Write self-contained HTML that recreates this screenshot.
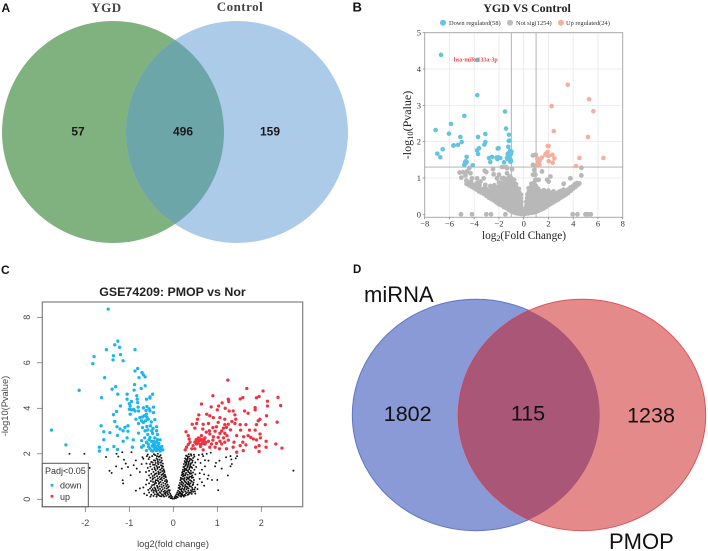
<!DOCTYPE html>
<html lang="en">
<head>
<meta charset="utf-8">
<title>Venn diagrams and volcano plots</title>
<style>
html,body{margin:0;padding:0;background:#fff;}
svg{display:block;}
text{font-family:"Liberation Sans",sans-serif;}
.serif{font-family:"Liberation Serif",serif;}
</style>
</head>
<body>
<svg id="figure" width="708" height="551" viewBox="0 0 708 551" xmlns="http://www.w3.org/2000/svg">
  <defs>
    <clipPath id="clip-a"><circle cx="113" cy="132" r="111"/></clipPath>
    <clipPath id="clip-d"><ellipse cx="476" cy="415" rx="123.7" ry="115.7"/></clipPath>
  </defs>
  <rect width="708" height="551" fill="#fff"/>

  <g>
    <text x="1.5" y="12" font-size="12" font-weight="bold" fill="#111">A</text>
    <circle cx="113" cy="132" r="111" fill="#80b27f"/>
    <circle cx="237" cy="132" r="111" fill="#abcbe9"/>
    <circle cx="237" cy="132" r="111" fill="#6ca6a8" clip-path="url(#clip-a)"/>
    <text class="serif" x="106.500" y="12" font-size="13" font-weight="bold" fill="#444" text-anchor="middle" letter-spacing=".5">YGD</text>
    <text class="serif" x="240" y="11" font-size="13" font-weight="bold" fill="#444" text-anchor="middle" letter-spacing=".5">Control</text>
    <text x="78" y="135.500" font-size="12" font-weight="bold" fill="#1a1a1a" text-anchor="middle">57</text>
    <text x="183" y="135.500" font-size="12" font-weight="bold" fill="#1a1a1a" text-anchor="middle">496</text>
    <text x="270" y="135.500" font-size="12" font-weight="bold" fill="#1a1a1a" text-anchor="middle">159</text>
  </g>

  <g>
    <text x="353" y="273" font-size="11.500" font-weight="bold" fill="#111">D</text>
    <ellipse cx="476" cy="415" rx="123.7" ry="115.7" fill="#8a9ad6" stroke="#5f76c6" stroke-width="1"/>
    <ellipse cx="582" cy="415" rx="123.7" ry="115.7" fill="#e58a8a" stroke="#d9545c" stroke-width="1"/>
    <ellipse cx="582" cy="415" rx="123.7" ry="115.7" fill="#aa5777" stroke="#c9485a" stroke-width="1" clip-path="url(#clip-d)"/>
    <text x="364" y="302" font-size="22" fill="#111">miRNA</text>
    <text x="609" y="549" font-size="22" fill="#111">PMOP</text>
    <text x="407.700" y="421" font-size="21.500" fill="#111" text-anchor="middle">1802</text>
    <text x="528" y="420.700" font-size="21.500" fill="#111" text-anchor="middle">115</text>
    <text x="651" y="422.700" font-size="21.500" fill="#111" text-anchor="middle">1238</text>
  </g>

  <g id="panel-b">
    <text x="352.500" y="11.500" font-size="13" font-weight="bold" fill="#111">B</text>
    <text class="serif" x="527" y="12" font-size="12" font-weight="bold" fill="#222" text-anchor="middle">YGD VS Control</text>
    <circle cx="443" cy="22.700" r="3" fill="#62c4e0"/>
    <text class="serif" x="449" y="25" font-size="6.400" fill="#333">Down regulated(58)</text>
    <circle cx="510" cy="22.700" r="3" fill="#bdbdbd"/>
    <text class="serif" x="516" y="25" font-size="6.400" fill="#333">Not sig(1254)</text>
    <circle cx="561" cy="22.700" r="3" fill="#f7ae9c"/>
    <text class="serif" x="566" y="25" font-size="6.400" fill="#333">Up regulated(24)</text>
    <g id="b-grid"></g>
    <g id="b-points"></g>
    <g id="b-axes"></g>
    <text class="serif" x="453.700" y="61.700" font-size="6" font-weight="bold" fill="#f0454a">hsa-miR-133a-3p</text>
    <text class="serif" x="524" y="239" font-size="11.300" fill="#222" text-anchor="middle">log<tspan font-size="8" dy="2">2</tspan><tspan dy="-2">(Fold Change)</tspan></text>
    <text class="serif" transform="translate(411,125) rotate(-90)" font-size="12" fill="#222" text-anchor="middle">-log<tspan font-size="8.500" dy="2">10</tspan><tspan dy="-2">(Pvalue)</tspan></text>
  </g>

  <g id="panel-c">
    <text x="1" y="274" font-size="12" font-weight="bold" fill="#111">C</text>
    <text x="172.500" y="296" font-size="12.400" font-weight="bold" fill="#222" text-anchor="middle">GSE74209: PMOP vs Nor</text>
    <g id="c-points"></g>
    <g id="c-axes"></g>
    <text x="173" y="547" font-size="9.300" fill="#444" text-anchor="middle">log2(fold change)</text>
    <text transform="translate(8,406) rotate(-90)" font-size="9.300" fill="#444" text-anchor="middle">-log10(Pvalue)</text>
    <g>
      <rect x="42.300" y="463.300" width="46" height="43.400" fill="#fff" stroke="#555" stroke-width="1"/>
      <text x="45" y="474" font-size="9" fill="#333">Padj&lt;0.05</text>
      <circle cx="52" cy="485.300" r="1.500" fill="#1ab5ec"/>
      <text x="60" y="488.500" font-size="9" fill="#333">down</text>
      <circle cx="52" cy="496.300" r="1.500" fill="#ee3340"/>
      <text x="60" y="499.800" font-size="9" fill="#333">up</text>
    </g>
  </g>
</svg>
<script>
// Panel B: tick labels
const bXTicks = [-8,-6,-4,-2,0,2,4,6,8];
const bYTicks = [0,1,2,3,4,5];
const bThresholdX = [-1,1];
const bThresholdY = [1.3];

// Panel B: down regulated points [log2FC, -log10P]
const bDown = [[-6.68,4.39],[-3.77,4.25],[-3.75,3.28],[-4.8,2.71],[-5.88,2.49],[-1.51,2.83],[-7.12,2.32],[-6.04,2.22],[-5.12,2.13],[-5.31,1.91],[-5.01,1.99],[-5.69,1.89],[-5.65,1.9],[-6.55,1.79],[-6.98,1.67],[-6.74,1.57],[-4.61,1.58],[-4.61,1.44],[-4.74,1.43],[-4.8,1.36],[-4.72,1.39],[-4.12,1.35],[-3.69,2.13],[-3.1,2.21],[-3.1,1.99],[-3.18,1.92],[-3.77,1.76],[-3.61,1.82],[-3.69,1.66],[-2.8,1.55],[-2.56,1.58],[-2.7,1.44],[-2.16,1.55],[-1.89,1.55],[-2.13,1.52],[-2.1,1.81],[-2.03,1.82],[-1.43,2.36],[-1.19,2.19],[-1.21,2.02],[-1.15,2.03],[-1.24,1.86],[-1.29,1.67],[-1.21,1.68],[-1.35,1.55],[-1.59,1.43],[-1,1.73],[-1.02,1.67],[-1.08,1.45],[-1.02,1.46],[-1.26,1.6],[-1.1,1.75],[-2.2,1.56],[-2.08,1.57],[-4.68,1.46],[-1.05,1.5],[-1.12,1.62],[-1.3,1.52]];

// Panel B: up regulated points
const bUp = [[3.56,3.57],[5.28,3.17],[5.63,2.84],[2.26,2.98],[2.43,2.29],[5.2,2.13],[2.02,1.88],[1.94,1.88],[1.94,1.72],[1.8,1.67],[2,1.61],[2.32,1.64],[2.48,1.54],[2.35,1.42],[2.02,1.46],[1.46,1.56],[1.1,1.54],[1.29,1.48],[1.19,1.43],[1.1,1.36],[1.27,1.36],[4.5,1.55],[4.23,1.33],[6.44,1.55],[1.75,1.64]];

// Panel B: not significant points
const bNotSig = [[-5.18,1.15],[-4.9,1.16],[-4.58,1.18],[-4.4,1.27],[-5.04,1.01],[-4.7,1.07],[-4.3,1.13],[-4.63,.93],[-4.18,.99],[-3.77,.99],[-4.26,.9],[-3.15,1.2],[-3.02,1.16],[-2.48,1.24],[-1.75,1.3],[-1.43,1.3],[-1.35,1.13],[-2.43,1.1],[-3.23,.99],[-3.5,.9],[-3.1,.81],[-2.7,.78],[-3.77,.86],[-2.16,.99],[-2,1.09],[-1.75,.99],[-1.35,1.27],[-.94,1.24],[-1.08,1.04],[-5.07,0],[-4.18,0],[-3.02,0],[-2.64,0],[-1.48,0],[3.96,0],[4.34,0],[4.99,0],[5.18,0],[5.42,0],[.75,1.62],[.97,1.64],[.75,1.36],[.97,1.34],[.86,1.22],[.75,1.09],[.94,1.09],[1.48,1.18],[.94,.95],[1.21,.95],[2.16,1.04],[1.89,.95],[2.02,.9],[3.23,.84],[3.77,.99],[4.66,1.28],[4.66,1.07],[4.31,.86],[.67,.81],[.8,.86],
[-4.62,.84],[-4.41,.8],[-4.38,.87],[-4.2,.76],[-4.18,.83],[-4.01,.72],[-3.98,.8],[-3.8,.68],[-3.78,.76],[-3.61,.63],[-3.6,.72],[-3.57,.8],[-3.41,.6],[-3.39,.68],[-3.2,.56],[-3.22,.64],[-3.18,.72],[-3.01,.51],[-2.98,.6],[-3.02,.7],[-2.81,.46],[-2.79,.55],[-2.82,.65],[-2.61,.42],[-2.58,.52],[-2.62,.62],[-2.57,.72],[-2.4,.38],[-2.42,.48],[-2.38,.58],[-2.41,.68],[-2.37,.8],[-2.21,.33],[-2.19,.43],[-2.22,.53],[-2.18,.63],[-2.2,.73],[-2.01,.28],[-1.98,.38],[-2.02,.48],[-1.99,.58],[-2.03,.68],[-1.97,.78],[-2,.88],[-1.8,.25],[-1.82,.35],[-1.78,.45],[-1.81,.55],[-1.79,.65],[-1.83,.75],[-1.77,.85],[-1.6,.2],[-1.62,.3],[-1.58,.4],[-1.61,.5],[-1.59,.6],[-1.63,.7],[-1.57,.8],[-1.6,.9],[-1.62,1],[-1.4,.17],[-1.42,.27],[-1.38,.37],[-1.41,.47],[-1.39,.57],[-1.43,.67],[-1.37,.77],[-1.4,.87],[-1.42,.97],[-1.2,.12],[-1.22,.22],[-1.18,.32],[-1.21,.42],[-1.19,.52],[-1.23,.62],[-1.17,.72],[-1.2,.82],[-1.22,.92],[-1.18,1.02],[-1,.08],[-1.02,.18],[-.98,.28],[-1.01,.38],[-.99,.48],[-1.03,.58],[-.97,.68],[-1,.78],[-1.02,.88],[-.98,.98],[-.8,.05],[-.82,.15],[-.78,.25],[-.81,.35],[-.79,.45],[-.83,.55],[-.77,.65],[-.8,.75],[-.82,.85],[-.78,.95],[-.6,.03],[-.62,.13],[-.58,.23],[-.61,.33],[-.59,.43],[-.63,.53],[-.57,.63],[-.6,.73],[-.62,.83],[-.4,.02],[-.42,.1],[-.38,.2],[-.41,.3],[-.39,.4],[-.43,.5],[-.37,.6],[-.4,.7],[-.2,.01],[-.22,.08],[-.18,.16],[-.23,.25],[-.2,.34],[-.24,.44],[-.22,.54],[-.1,.05],[-.1,.14],[0,0],[.02,.05],[.1,.05],[.11,.12],
[.2,.02],[.22,.1],[.18,.18],[.24,.26],[.22,.35],[.28,.45],[.3,.55],[.4,.03],[.42,.12],[.38,.22],[.41,.32],[.43,.42],[.39,.52],[.42,.62],[.4,.72],[.6,.04],[.62,.14],[.58,.24],[.61,.34],[.59,.44],[.63,.54],[.57,.64],[.6,.74],[.62,.84],[.8,.05],[.82,.15],[.78,.25],[.81,.35],[.79,.45],[.83,.55],[.77,.65],[.8,.75],[1,.07],[1.02,.17],[.98,.27],[1.01,.37],[.99,.47],[1.03,.57],[.97,.67],[1,.77],[1.2,.1],[1.22,.2],[1.18,.3],[1.21,.4],[1.19,.5],[1.23,.6],[1.17,.7],[1.4,.13],[1.42,.23],[1.38,.33],[1.41,.43],[1.39,.53],[1.43,.63],[1.6,.16],[1.62,.26],[1.58,.36],[1.61,.46],[1.59,.56],[1.63,.66],[1.8,.2],[1.82,.3],[1.78,.4],[1.81,.5],[1.79,.6],[2,.25],[2.02,.35],[1.98,.45],[2.01,.55],[1.99,.65],[2.2,.29],[2.22,.39],[2.18,.49],[2.21,.59],[2.4,.33],[2.42,.43],[2.38,.53],[2.41,.63],[2.6,.37],[2.58,.47],[2.62,.57],[2.8,.41],[2.78,.51],[2.82,.61],[3,.46],[3.02,.55],[2.98,.64],[3.2,.5],[3.18,.59],[3.22,.68],[3.4,.54],[3.42,.63],[3.6,.59],[3.58,.68],[3.8,.65],[3.78,.74],[4,.71],[4.02,.79],[4.2,.76],[4.18,.84],[4.4,.82],[4.5,.85]];

// Panel C: tick labels
const cXTicks = [-2,-1,0,1,2];
const cYTicks = [0,2,4,6,8];

// Panel C: down points [log2FC, -log10P]
const cDown = [[-1.48,8.36],[-1.26,6.95],[-1.33,6.79],[-1.22,6.68],[-1.52,6.58],[-.87,6.58],[-1.8,6.27],[-1.83,5.96],[-1.36,6.31],[-1.37,6.13],[-1.2,6.36],[-1.14,6.09],[-1.56,5.35],[-.81,5.75],[-.87,5.64],[-.71,5.57],[-.68,5.47],[-.64,5.38],[-.78,5.35],[-.88,5.04],[-.64,4.99],[-.73,4.87],[-.89,4.8],[-1.31,4.95],[-1.39,4.84],[-2.14,4.79],[-1.26,4.62],[-1.63,4.47],[-1.05,4.62],[-1.05,4.4],[-.83,4.55],[-.82,4.4],[-.95,4.3],[-.81,4.25],[-1,4.2],[-.47,4.62],[-.53,4.5],[-.61,4.4],[-.53,4.45],[-1.2,4.1],[-.98,4.1],[-.95,3.93],[-2.77,3.04],[-2.44,2.39],[-1.64,3.23],[-1.58,2.97],[-1.58,2.62],[-1.68,2.29],[-1.68,2.12],[-1.5,2.19],[-1.44,2.93],[-1.36,3.72],[-1.29,3.86],[-1.33,3.42],[-1.28,3.19],[-1.27,2.81],[-1.21,3.09],[-1.14,3.01],[-1.1,3.16],[-1.03,3.23],[-1.03,2.99],[-1.14,2.55],[-1.05,2.7],[-.91,2.61],[-1.35,2.32],[-1.27,2.19],[-.93,2.29],[-1,3.96],[-.98,3.74],[-.87,3.88],[-.79,3.88],[-.85,3.52],[-.76,3.59],[-.66,3.67],[-.61,3.74],[-.53,3.88],[-.45,3.81],[-.57,3.52],[-.68,3.38],[-.79,3.33],[-.52,3.23],[-.38,3.19],[-.38,3.01],[-.49,3.01],[-.64,3.01],[-.79,2.91],[-.53,2.72],[-.42,2.7],[-.3,2.61],[-.61,2.51],[-.72,2.58],[-.68,2.36],[-.57,2.43],[-.45,2.43],[-.38,2.51],[-.32,2.29],[-.24,2.17],[-.3,2.12],[-.44,2.29],[-.53,2.22],[-.61,2.14],[-.72,2.29],[-.38,2.14],[-.47,2.12],[-.62,3.9],[-.7,3.62],[-.6,3.6],[-.72,3.45],[-.63,3.45],[-.55,3.98],[-.45,4.05],[-.6,4.08],[-.68,4.02],[-.8,4.05],[-.9,3.95],[-.5,3.4],[-.42,3.5],[-.36,2.85],[-.33,2.45],[-.26,2.32],[-.28,2.22],[-.35,2.34],[-.42,2.38],[-.5,2.55],[-.65,2.7],[-.58,2.85],[-.47,2.9],[-.56,2.3],[-.5,2.15],[-.42,2.18],[-.34,2.2],[-.4,2.26],[-.48,2.35],[-.55,2.62],[-.44,2.55],[-.36,2.62],[-.6,3.2],[-.7,3.15],[-.46,3.12],[-.58,3.05]];

// Panel C: up points
const cUp = [[1.24,5.24],[1.67,4.87],[.9,4.55],[2.04,4.76],[2.38,4.48],[1.95,4.52],[1.89,4.46],[2.14,4.31],[1.25,4.4],[1.26,4.3],[1.11,4.24],[1.52,4.41],[1.58,4.47],[1.86,3.93],[.64,4.19],[.86,4.06],[1.03,4.1],[1,3.93],[1.18,4],[1.27,3.88],[1.36,3.88],[1.62,3.88],[1.7,3.78],[1.86,4.03],[2.14,4.1],[2.44,4.12],[2.12,3.67],[2.36,3.39],[1.97,3.52],[1.93,3.45],[2.09,3.28],[1.89,3.28],[.58,3.71],[.76,3.74],[.83,3.67],[.91,3.59],[1.06,3.59],[1.17,3.52],[1.4,3.71],[1.42,3.52],[.55,3.52],[.43,3.3],[.53,3.33],[.68,3.3],[.8,3.33],[1.02,3.38],[1.17,3.28],[1.25,3.3],[1.33,3.42],[1.4,3.33],[1.52,3.28],[1.65,3.28],[.49,3.13],[.67,3.09],[.98,3.19],[1.14,3.13],[1.21,3.16],[1.53,3.04],[1.73,3.04],[1.86,3.04],[.29,2.97],[.82,3.01],[.95,2.99],[1.06,2.9],[1.17,2.9],[1.44,2.8],[1.7,2.8],[1.97,2.87],[1.98,2.7],[1.76,2.72],[1.6,2.75],[.34,2.8],[.36,2.65],[.57,2.7],[.64,2.8],[.72,2.7],[.83,2.87],[.91,2.75],[1.02,2.72],[1.14,2.7],[1.82,2.65],[1.89,2.61],[2.11,2.55],[2.33,2.43],[2.47,2.25],[2.11,2.29],[1.95,2.36],[1.87,2.29],[1.95,2.1],[1.58,2.51],[1.65,2.39],[1.38,2.51],[1.52,2.36],[1.59,2.14],[1.36,2.29],[1.44,2.07],[.38,2.51],[.49,2.51],[.61,2.58],[.68,2.55],[.8,2.55],[.87,2.43],[.98,2.46],[1.1,2.43],[1.17,2.51],[1.21,2.22],[1.05,2.22],[.68,2.17],[.83,2.29],[.95,2.29],[.45,2.36],[.53,2.43],[.34,2.41],[.27,2.17],[.3,2.29],[.42,2.22],[.49,2.22],[.61,2.41],[.72,2.43],[.58,2.62],[.66,2.62],[.74,2.5],[.56,2.5],[.62,2.32],[.66,2.45],[.6,2.66],[.55,2.58],[.7,2.6],[.52,2.62],[.9,2.6],[1.06,2.55],[1.25,2.6],[1.22,2.8],[1.3,3.05],[1.1,3],[.9,3.15],[.75,2.95]];

// Panel C: non-significant points
const cNone = [[.02,.03],[.04,.06],[.06,.05],[.08,.12],[.03,.1],[.05,.15],[.1,.09],[.12,.18],[.07,.22],[.09,.3],[.13,.25],[.16,.14],[.18,.2],[.11,.38],[.14,.33],[.17,.28],[.2,.24],[.23,.17],[.12,.5],[.15,.45],[.19,.36],[.22,.31],[.26,.2],[.29,.27],[.13,.62],[.16,.56],[.2,.48],[.24,.42],[.27,.35],[.31,.3],[.35,.22],[.15,.72],[.18,.66],[.22,.58],[.26,.52],[.3,.44],[.34,.38],[.38,.28],[.42,.24],[.16,.84],[.19,.78],[.23,.7],[.27,.63],[.31,.55],[.35,.48],[.4,.4],[.45,.33],[.17,.95],[.21,.9],[.25,.82],[.29,.74],[.33,.66],[.37,.58],[.43,.5],[.49,.35],[.19,1.06],[.22,1],[.26,.94],[.3,.86],[.34,.78],[.39,.7],[.44,.62],[.5,.52],[.2,1.18],[.23,1.12],[.27,1.05],[.31,.97],[.35,.9],[.4,.82],[.46,.74],[.22,1.3],[.25,1.22],[.29,1.16],[.33,1.08],[.37,1],[.42,.94],[.47,.85],[.23,1.42],[.26,1.35],[.3,1.28],[.34,1.2],[.38,1.12],[.43,1.05],[.24,1.55],[.28,1.48],[.32,1.4],[.36,1.32],[.4,1.25],[.45,1.18],[.5,1.1],[.26,1.68],[.3,1.6],[.34,1.52],[.38,1.45],[.43,1.38],[.48,1.3],[.27,1.8],[.31,1.72],[.35,1.65],[.4,1.58],[.46,1.5],[.52,1.42],[.29,1.92],[.33,1.85],[.38,1.78],[.44,1.7],[.5,1.62],[.56,1.75],[.35,1.98],[.41,1.92],[.48,1.88],[.58,1.95],[.66,1.98],[.68,1.9],[.76,2],[.85,2.05],[.72,1.72],[.62,1.6],[.8,1.7],[.72,1.45],[.65,1.3],[.6,1.15],[.7,1.1],[.78,.9],[.8,1.05],[.88,.85],[.6,.9],[.65,.75],[.7,.6],[.55,.65],[.55,.45],[.5,.25],[.95,1.45],[.97,1.6],[1.1,1.35],[1,.85],[1.02,.4],[1.24,1.05],[1.3,1.45],[1.33,1.55],[1.32,1.75],[1.2,1.85],[1.3,1.9],[1.42,1.8],[1.45,1.9],[2.73,1.26],[1.05,1.7],
[-.02,.03],[-.04,.07],[-.06,.05],[-.08,.13],[-.03,.11],[-.05,.17],[-.1,.1],[-.12,.2],[-.07,.24],[-.09,.32],[-.13,.27],[-.16,.15],[-.18,.22],[-.11,.4],[-.14,.35],[-.17,.3],[-.2,.26],[-.23,.18],[-.12,.52],[-.15,.47],[-.19,.38],[-.22,.33],[-.26,.22],[-.29,.28],[-.13,.64],[-.16,.58],[-.2,.5],[-.24,.44],[-.27,.37],[-.31,.31],[-.35,.24],[-.15,.74],[-.18,.68],[-.22,.6],[-.26,.54],[-.3,.46],[-.34,.4],[-.38,.3],[-.42,.22],[-.16,.86],[-.19,.8],[-.23,.72],[-.27,.65],[-.31,.57],[-.35,.5],[-.4,.42],[-.45,.3],[-.5,.2],[-.17,.97],[-.21,.92],[-.25,.84],[-.29,.76],[-.33,.68],[-.37,.6],[-.43,.52],[-.49,.38],[-.19,1.08],[-.22,1.02],[-.26,.96],[-.3,.88],[-.34,.8],[-.39,.72],[-.44,.64],[-.5,.54],[-.55,.3],[-.2,1.2],[-.23,1.14],[-.27,1.07],[-.31,.99],[-.35,.92],[-.4,.84],[-.46,.76],[-.22,1.32],[-.25,1.24],[-.29,1.18],[-.33,1.1],[-.37,1.02],[-.42,.96],[-.47,.87],[-.23,1.44],[-.26,1.37],[-.3,1.3],[-.34,1.22],[-.38,1.14],[-.43,1.07],[-.24,1.57],[-.28,1.5],[-.32,1.42],[-.36,1.34],[-.4,1.27],[-.45,1.2],[-.5,1.12],[-.26,1.7],[-.3,1.62],[-.34,1.54],[-.38,1.47],[-.43,1.4],[-.48,1.32],[-.27,1.82],[-.31,1.74],[-.35,1.67],[-.4,1.6],[-.46,1.52],[-.52,1.44],[-.29,1.94],[-.33,1.87],[-.38,1.8],[-.44,1.72],[-.5,1.64],[-.56,1.77],[-.35,2],[-.41,1.94],[-.48,1.9],[-.58,1.97],[-2.36,2],[-2.02,2],[-1.9,1.38],[-1.53,1.86],[-1.45,1.25],[-1.4,1.16],[-1.3,1.45],[-1.15,.84],[-1.14,.7],[-1.29,2],[-1.25,1.88],[-1.16,2.07],[-1.12,1.74],[-1.08,1.57],[-1.17,1.35],[-1.03,1.42],[-.95,2.07],[-.97,1.06],[-.85,1.71],[-.83,1.35],[-.76,1.2],[-.85,.38],[-.76,.48],[-.68,.52],[-.57,.41],[-.68,1.78],[-.61,1.57],[-.72,1.55],[-.9,1.5],[-.62,1.2],[-.55,1.05],[-.6,.85],[-.55,.7],[-.62,.65],[-.7,1.85],[-.6,1.9],[-.66,.25],[-.6,.18],[-.52,.12],[-.45,.15],[-.38,.12],[-.3,.14],
[-.21,.12],[-.27,.13],[-.33,.18],[-.37,.2],[-.44,.38],[-.39,.36],[-.47,.45],[-.53,.47],[-.42,.68],[-.48,.62],[-.46,.93],[-.51,.8],[-.41,1.12],[-.47,1.02],[-.52,.95],[-.36,1.4],[-.42,1.33],[-.55,1.25],[-.58,1.38],[-.35,1.6],[-.42,1.52],[-.53,1.55],[-.36,1.75],[-.41,1.7],[-.47,1.62],[-.31,1.88],[-.37,1.9],[-.54,1.85],[-.44,1.98],[-.28,1.62],[-.25,1.46],[-.21,1.26],[-.18,1.02],[-.14,.8],[-.1,.56],[-.08,.4],[-.24,1.1],[-.28,.9],[-.32,.72],[-.36,.55],[-.41,.48],[-.29,1.3],[-.33,1.16],[-.37,.84],[-.41,.76],
[.11,.22],[.15,.26],[.18,.12],[.21,.18],[.24,.12],[.28,.17],[.33,.2],[.36,.3],[.41,.33],[.44,.42],[.48,.44],[.14,.52],[.18,.42],[.21,.62],[.25,.46],[.28,.58],[.32,.5],[.36,.64],[.4,.56],[.45,.66],[.18,.9],[.2,.74],[.24,.88],[.27,.77],[.31,.69],[.35,.72],[.38,.84],[.42,.78],[.21,1.1],[.24,1.04],[.28,1.1],[.32,.92],[.36,.96],[.41,1],[.45,.96],[.22,1.22],[.26,1.28],[.29,1.34],[.33,1.26],[.37,1.17],[.41,1.14],[.25,1.44],[.29,1.54],[.33,1.46],[.37,1.38],[.41,1.42],[.27,1.62],[.31,1.66],[.35,1.58],[.39,1.52],[.43,1.62],[.29,1.76],[.33,1.78],[.37,1.7],[.41,1.75],[.31,1.9],[.36,1.88],[.4,1.98],[.45,1.82],[.47,1.96]];

const svgNS = 'http://www.w3.org/2000/svg';

// Panel B scales
const bX = v => 523.700 + v * 12.375;
const bY = v => 214.300 - v * 36.320;
// Panel C scales
const cX = v => 173.300 + v * 44;
const cY = v => 499.300 - v * 22.750;

function shape(parent, tag, attrs) {
  const el = document.createElementNS(svgNS, tag);
  for (const k in attrs) el.setAttribute(k, attrs[k]);
  parent.appendChild(el);
  return el;
}

const bGrid = document.getElementById('b-grid');
const bPoints = document.getElementById('b-points');
const bAxes = document.getElementById('b-axes');
const cPoints = document.getElementById('c-points');
const cAxes = document.getElementById('c-axes');

const bLeft = bX(-8), bRight = bX(8), bTop = bY(5), bBottom = 217.300;

bXTicks.forEach(t => {
  if (t === -8 || t === 8) return;
  const line = shape(bGrid, 'line', {x1: bX(t), x2: bX(t), y1: bTop, y2: bBottom, stroke: '#e8e8e8', 'stroke-width': 0.8});
  
  
});
bYTicks.forEach(t => {
  if (t === 0 || t === 5) return;
  const line = shape(bGrid, 'line', {x1: bLeft, x2: bRight, y1: bY(t), y2: bY(t), stroke: '#e8e8e8', 'stroke-width': 0.8});
  
  
});
bThresholdX.forEach(t => {
  const line = shape(bGrid, 'line', {x1: bX(t), x2: bX(t), y1: bTop, y2: bBottom, stroke: '#aaa', 'stroke-width': 0.9});
  
  
});
bThresholdY.forEach(t => {
  const line = shape(bGrid, 'line', {x1: bLeft, x2: bRight, y1: bY(t), y2: bY(t), stroke: '#aaa', 'stroke-width': 0.9});
  
  
});

bNotSig.forEach(p => {
  const c = shape(bPoints, 'circle', {cx: bX(p[0]), cy: bY(p[1]), r: 2.4, fill: '#b8b8b8'});
  
  
});
bDown.forEach(p => {
  const c = shape(bPoints, 'circle', {cx: bX(p[0]), cy: bY(p[1]), r: 2.3, fill: '#62c4e0'});
  
  
});
bUp.forEach(p => {
  const c = shape(bPoints, 'circle', {cx: bX(p[0]), cy: bY(p[1]), r: 2.3, fill: '#f7ae9c'});
  
  
});

const bFrame = shape(bAxes, 'rect', {x: bLeft, y: bTop, width: bRight - bLeft, height: bBottom - bTop, fill: 'none', stroke: '#a8a8a8', 'stroke-width': 1});


bXTicks.forEach(t => {
  const mark = shape(bAxes, 'line', {x1: bX(t), x2: bX(t), y1: bBottom, y2: bBottom + 2, stroke: '#777', 'stroke-width': 0.7});
  
  
  const label = shape(bAxes, 'text', {x: bX(t), y: 226.500, 'font-size': 8.500, fill: '#333', 'text-anchor': 'middle', style: 'font-family:"Liberation Serif",serif'});
  
  
  label.textContent = (t < 0 ? '\u2212' + (-t) : String(t));
});
bYTicks.forEach(t => {
  const mark = shape(bAxes, 'line', {x1: bLeft - 2, x2: bLeft, y1: bY(t), y2: bY(t), stroke: '#777', 'stroke-width': 0.7});
  
  
  const label = shape(bAxes, 'text', {x: 421, y: bY(t) + 3, 'font-size': 8.500, fill: '#333', 'text-anchor': 'end', style: 'font-family:"Liberation Serif",serif'});
  
  
  label.textContent = String(t);
});

cNone.forEach(p => {
  const c = shape(cPoints, 'circle', {cx: cX(p[0]), cy: cY(p[1]), r: 0.95, fill: '#111'});
  
  
});
cDown.forEach(p => {
  const c = shape(cPoints, 'circle', {cx: cX(p[0]), cy: cY(p[1]), r: 1.650, fill: '#1ab5ec'});
  
  
});
cUp.forEach(p => {
  const c = shape(cPoints, 'circle', {cx: cX(p[0]), cy: cY(p[1]), r: 1.650, fill: '#ee3340'});
  
  
});

const cFrame = shape(cAxes, 'rect', {x: 42.300, y: 302, width: 260.400, height: 204.700, fill: 'none', stroke: '#808080', 'stroke-width': 1.200});


cXTicks.forEach(t => {
  const mark = shape(cAxes, 'line', {x1: cX(t), x2: cX(t), y1: 506.700, y2: 512, stroke: '#666', 'stroke-width': 0.7});
  
  
  const label = shape(cAxes, 'text', {x: cX(t), y: 526, 'font-size': 9, fill: '#444', 'text-anchor': 'middle'});
  
  
  label.textContent = String(t);
});
cYTicks.forEach(t => {
  const mark = shape(cAxes, 'line', {x1: 37, x2: 42.300, y1: cY(t), y2: cY(t), stroke: '#666', 'stroke-width': 0.7});
  
  
  const label = shape(cAxes, 'text', {transform: 'translate(30,' + cY(t) + ') rotate(-90)', 'font-size': 9, fill: '#444', 'text-anchor': 'middle'});
  
  
  label.textContent = String(t);
});
</script>
</body>
</html>
